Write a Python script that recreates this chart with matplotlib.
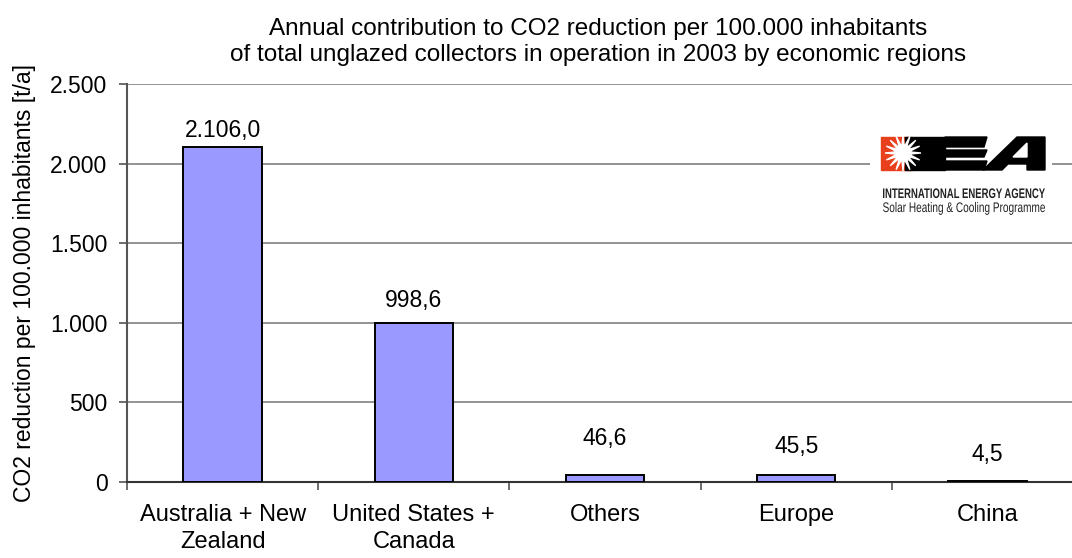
import numpy as np
import matplotlib.pyplot as plt
from matplotlib.patches import Rectangle, Polygon, Circle, PathPatch
from matplotlib.textpath import TextPath
from matplotlib.font_manager import FontProperties
from matplotlib.transforms import Affine2D

plt.rcParams['font.family'] = ['Liberation Sans', 'DejaVu Sans']

# data
regions = ['Australia + New\nZealand', 'United States +\nCanada', 'Others', 'Europe', 'China']
co2_reduction = [2106.0, 998.6, 46.6, 45.5, 4.5]
label_offsets = [12, 16, 26, 20, 19]  # points from bar top to label centre
y_ticks = [0, 500, 1000, 1500, 2000, 2500]


def de_format(v, decimals=0):
    s = f"{v:,.{decimals}f}"
    return s.replace(',', 'X').replace('.', ',').replace('X', '.')


W, H = 1072, 558
fig = plt.figure(figsize=(W / 100, H / 100), dpi=100)
ax = fig.add_axes([127 / W, (H - 482) / H, (1083 - 127) / W, (482 - 84) / H])

x = np.arange(len(regions))
ax.bar(x, co2_reduction, width=0.41, color='#9999FF', edgecolor='black',
       linewidth=1.4, zorder=3)

for xi, v, off in zip(x, co2_reduction, label_offsets):
    ax.annotate(de_format(v, 1), (xi, v), xytext=(0, off), textcoords='offset points',
                ha='center', va='center', fontsize=16.5)

ax.set_xlim(-0.5, len(regions) - 0.5)
ax.set_ylim(0, 2500)
ax.set_yticks(y_ticks)
ax.set_yticklabels([de_format(t) for t in y_ticks], fontsize=16.5)
ax.yaxis.grid(True, color='#808080', linewidth=1.2, zorder=0)
ax.set_axisbelow(True)

# boundary ticks between categories, labels centred on bars
ax.set_xticks(np.arange(len(regions) + 1) - 0.5)
ax.set_xticklabels([])
ax.set_xticks(x, minor=True)
ax.set_xticklabels(regions, minor=True, fontsize=17, linespacing=1.3)
ax.tick_params(axis='x', which='minor', length=0, pad=16)
ax.tick_params(axis='x', which='major', length=6, width=1.2, color='#555555', direction='out')
ax.tick_params(axis='y', length=6, width=1.2, color='#555555', direction='out', pad=8)

for side in ['top', 'right']:
    ax.spines[side].set_visible(False)
ax.spines['left'].set_color('#555555')
ax.spines['left'].set_linewidth(1.5)
ax.spines['bottom'].set_color('#333333')
ax.spines['bottom'].set_linewidth(1.5)

ax.set_ylabel('CO2 reduction per 100.000 inhabitants [t/a]', fontsize=16.5, labelpad=10)
fig.text(598 / W, 1 - 42 / H,
         'Annual contribution to CO2 reduction per 100.000 inhabitants\n'
         'of total unglazed collectors in operation in 2003 by economic regions',
         ha='center', va='center', fontsize=17.5, linespacing=1.2)

# IEA logo, drawn in pixel coordinates of its own box
lx0, lx1, ly0, ly1 = 870, 1052, 130, 216
lg = fig.add_axes([lx0 / W, (H - ly1) / H, (lx1 - lx0) / W, (ly1 - ly0) / H])
lg.set_xlim(lx0, lx1)
lg.set_ylim(ly1, ly0)
lg.axis('off')
lg.add_patch(Rectangle((lx0, ly0), lx1 - lx0, ly1 - ly0, color='white', zorder=0))
lg.add_patch(Rectangle((881, 137), 31, 33, color='#E8401C', zorder=1))
lg.add_patch(Rectangle((905, 137), 40, 33, color='black', zorder=1))
for yb in [(137, 147), (150, 157), (161, 170)]:
    lg.add_patch(Polygon([(945, yb[0]), (987, yb[0]), (984, yb[1]), (945, yb[1])],
                         color='black', zorder=1))
lg.add_patch(Polygon([(983, 170), (1017, 137), (1045, 137), (1045, 170), (1027, 170),
                      (1027, 164), (1008, 164), (1002, 170)], color='black', zorder=1))
lg.add_patch(Polygon([(1013, 157), (1027, 143), (1027, 157)], color='white', zorder=2))
n_rays = 16
ang = np.linspace(0, 2 * np.pi, 2 * n_rays, endpoint=False)
rad = np.where(np.arange(2 * n_rays) % 2 == 0, 18, 6)
sun = np.column_stack([903 + rad * np.cos(ang), 153 + rad * np.sin(ang)])
lg.add_patch(Polygon(sun, color='white', zorder=3))
lg.add_patch(Circle((903, 153), 8, color='white', zorder=3))


def squeezed_text(s, x0, x1, y_base, cap_h, weight='normal'):
    # condensed lettering: text outline scaled to fit a fixed width
    tp = TextPath((0, 0), s, size=10,
                  prop=FontProperties(family='Liberation Sans', weight=weight))
    ext = tp.get_extents()
    sx = (x1 - x0) / ext.width
    sy = cap_h / 7.2
    tr = Affine2D().translate(-ext.x0, 0).scale(sx, -sy).translate(x0, y_base)
    lg.add_patch(PathPatch(tr.transform_path(tp), color='#222222', lw=0, zorder=4))


squeezed_text('INTERNATIONAL ENERGY AGENCY', 883, 1045, 198, 10, weight='bold')
squeezed_text('Solar Heating & Cooling Programme', 883, 1045, 212, 10)

fig.savefig('out.png', dpi=100)
